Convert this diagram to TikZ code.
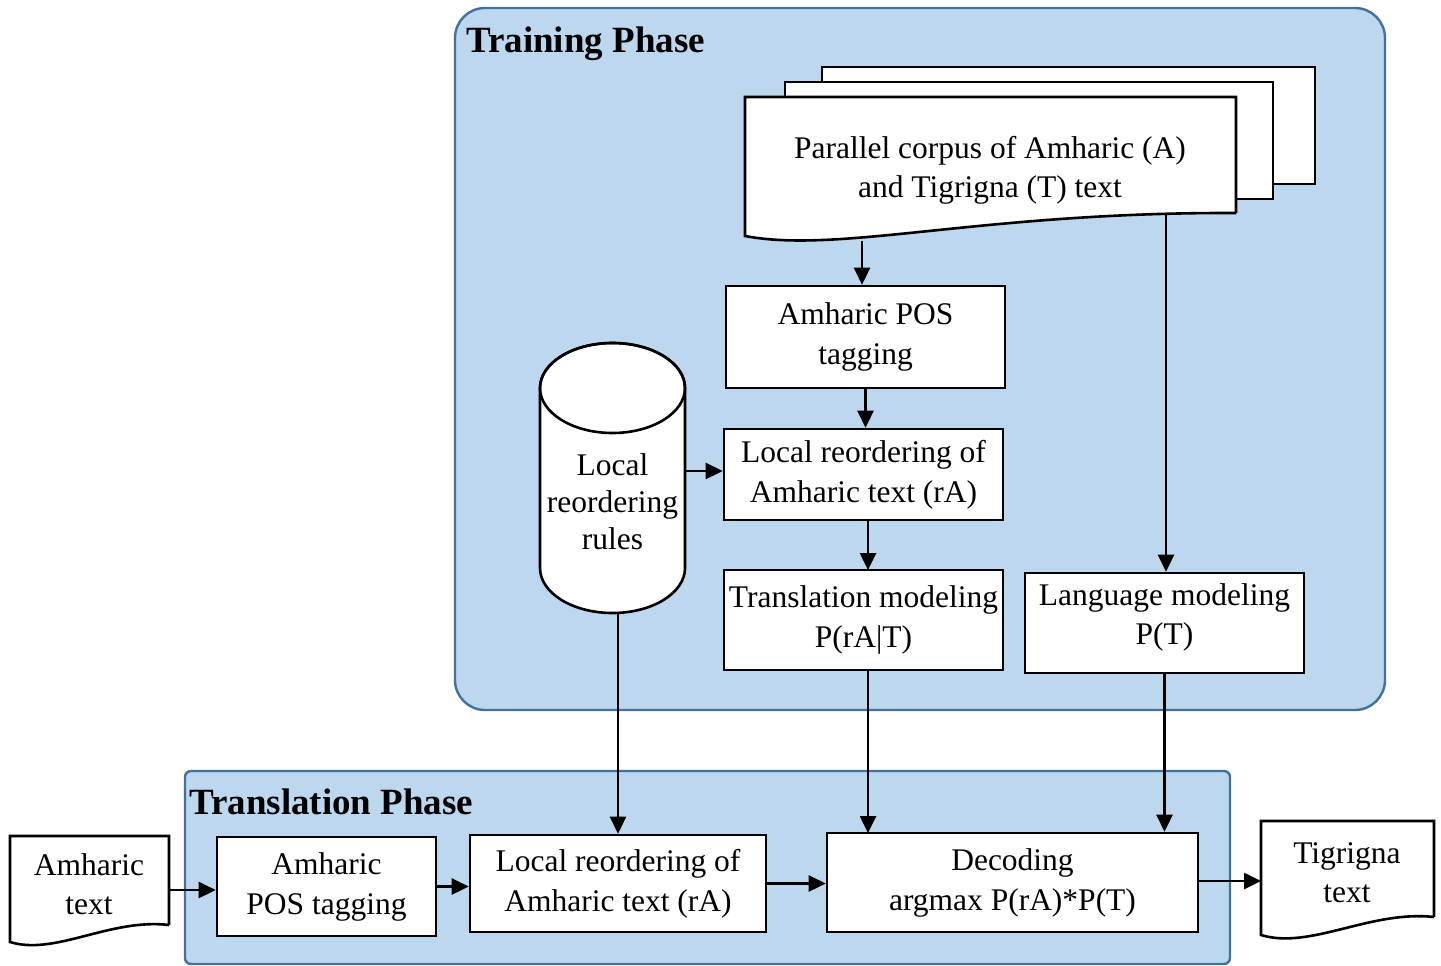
\documentclass[tikz,border=0pt]{standalone}
\usepackage{fontspec}
\setmainfont{Liberation Serif}
\usetikzlibrary{arrows.meta}
\definecolor{phasefill}{RGB}{189,215,238}
\definecolor{phaseline}{RGB}{65,113,156}
\begin{document}
\begin{tikzpicture}[x=1pt,y=-1pt,
  phase/.style={draw=phaseline,fill=phasefill,line width=2.4pt},
  box/.style={draw,fill=white,line width=2.6pt,align=center,inner sep=2pt,
    font=\fontsize{31.5}{40}\selectfont},
  txt/.style={align=center,inner sep=0pt,font=\fontsize{31.5}{39}\selectfont},
  doc/.style={draw,fill=white,line width=2.6pt},
  title/.style={anchor=west,inner sep=0pt,font=\fontsize{37}{40}\selectfont\bfseries},
  arr/.style={line width=2.6pt,-{Triangle[length=17pt,width=16pt]}}]
\useasboundingbox (0,0) rectangle (1441,966);
% phases
\draw[phase,rounded corners=30pt] (455,8) rectangle (1385,710);
\draw[phase,rounded corners=6pt] (185,771) rectangle (1230,964);
\node[title] (trt) at (466,44) {Training Phase};
\node[title] (tlt) at (189,802) {Translation Phase};
% corpus stack
\draw[doc] (822,67) rectangle (1315,184);
\draw[doc] (785,82) rectangle (1273,199);
\draw[doc] (1236,213) -- (1236,97) -- (745,97) -- (745,236)
  .. controls (840,254) and (980,212) .. (1236,213);
\node[txt] (corpus) at (990,170) {Parallel corpus of Amharic (A)\\and Tigrigna (T) text};
\coordinate (cA) at (862,241);
\coordinate (cB) at (1166,213);
% training boxes
\node[box,minimum width=279pt,minimum height=102pt] (pos) at (865.5,337) {Amharic POS\\tagging};
\node[box,minimum width=279pt,minimum height=91pt] (lr) at (863.5,474.5) {Local reordering of\\Amharic text (rA)};
\node[box,minimum width=279pt,minimum height=100pt] (tm) at (863.5,620) {Translation modeling\\P(rA|T)};
\node[box,minimum width=279pt,minimum height=100pt] (lm) at (1164.5,623) {};
\node[txt] (lmtext) at (1164.5,617) {Language modeling\\P(T)};
% cylinder
\draw[doc] (540,388) -- (540,568) arc[start angle=180,end angle=360,x radius=72.5pt,y radius=45pt]
  -- (685,388) arc[start angle=0,end angle=180,x radius=72.5pt,y radius=45pt] -- cycle;
\draw[line width=2.6pt] (612.5,388) ellipse[x radius=72.5pt,y radius=45pt];
\node[txt,font=\fontsize{31.5}{37}\selectfont] (rules) at (612.5,502) {Local\\reordering\\rules};
\coordinate (cylR) at (685,471);
\coordinate (cylB) at (618,613);
% translation boxes
\node[box,minimum width=219pt,minimum height=99pt] (pos2) at (326.5,886.5) {Amharic\\POS tagging};
\node[box,minimum width=296pt,minimum height=97pt] (lr2) at (618,883.5) {Local reordering of\\Amharic text (rA)};
\node[box,minimum width=371pt,minimum height=99pt] (dec) at (1012.5,882.5) {Decoding\\argmax P(rA)*P(T)};
% input / output documents
\draw[doc] (169,925) -- (169,836) -- (10,836) -- (10,942)
  .. controls (55,956) and (110,918) .. (169,925);
\node[txt] (amt) at (89,884) {Amharic\\text};
\draw[doc] (1434,917) -- (1434,821) -- (1261,821) -- (1261,935)
  .. controls (1310,950) and (1370,910) .. (1434,917);
\node[txt] (tig) at (1347,873) {Tigrigna\\text};
\coordinate (tigL) at (1261,881);
\coordinate (amtR) at (169,890);
% arrows
\draw[arr] (cA) -- (cA |- pos.north);
\draw[arr] (pos.south) -- (pos.south |- lr.north);
\draw[arr] (lr.south -| 868,0) -- (868,570);
\draw[arr] (cylR) -- (cylR -| lr.west);
\draw[arr] (cB) -- (cB |- lm.north);
\draw[arr] (cylB) -- (cylB |- lr2.north);
\draw[arr] (868,670) -- (868,833);
\draw[arr] (lm.south) -- (lm.south |- dec.north);
\draw[arr] (amtR) -- (amtR -| pos2.west);
\draw[arr] (pos2.east) -- (pos2.east -| lr2.west);
\draw[arr] (lr2.east) -- (lr2.east -| dec.west);
\draw[arr] (dec.east |- tigL) -- (tigL);
\end{tikzpicture}
\end{document}
